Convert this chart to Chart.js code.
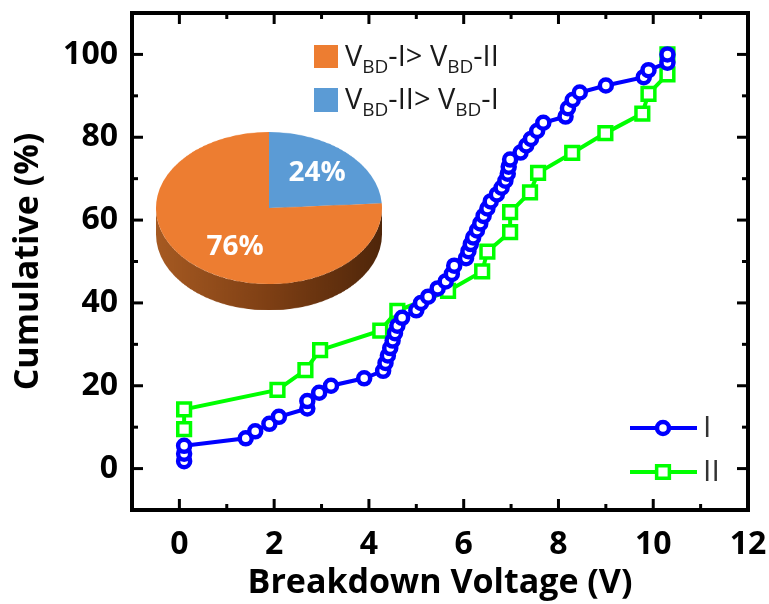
<!DOCTYPE html>
<html>
<head>
<meta charset="utf-8">
<script src="https://cdn.jsdelivr.net/npm/chart.js@4.4.0/dist/chart.umd.min.js"></script>
<style>
  body { margin: 0; background: #fff; }
  #wrap { position: relative; width: 769px; height: 604px; }
  #main { position: absolute; left: 0; top: 0; }
  #pie { position: absolute; left: 156px; top: 132px; transform: scaleY(0.673); transform-origin: 0 0; }
</style>
</head>
<body>
<div id="wrap">
  <canvas id="main" width="769" height="604"></canvas>
  <canvas id="pie" width="226" height="265"></canvas>
</div>
<script>
// series I (blue circles)
const voltI = [0.1, 0.1, 0.1, 1.4, 1.6, 1.9, 2.1, 2.7, 2.7, 2.95, 3.2, 3.9, 4.3, 4.35, 4.4, 4.45,
  4.5, 4.55, 4.6, 4.7, 5.0, 5.1, 5.25, 5.45, 5.62, 5.75, 5.8, 6.05, 6.1, 6.15, 6.2, 6.28,
  6.35, 6.42, 6.5, 6.57, 6.7, 6.8, 6.88, 6.93, 6.95, 6.98, 7.2, 7.32, 7.42, 7.55, 7.68,
  8.15, 8.2, 8.3, 8.45, 9.0, 9.8, 9.9, 10.3, 10.3];
const cumI = [1.8, 3.6, 5.5, 7.3, 9.0, 10.8, 12.5, 14.5, 16.3, 18.3, 20.0, 21.8, 23.6, 25.5, 27.3, 29.1,
  30.9, 32.7, 34.5, 36.4, 38.2, 40.0, 41.5, 43.5, 45.2, 47.0, 49.0, 50.8, 52.5, 54.2, 55.8, 57.5,
  59.2, 61.0, 62.8, 64.5, 66.2, 67.8, 69.5, 71.2, 72.9, 74.6, 76.3, 78.0, 79.6, 81.5, 83.5,
  85.0, 87.0, 89.0, 90.8, 92.5, 94.5, 96.2, 98.0, 100];

// series II (green squares)
const voltII = [0.1, 0.1, 2.07, 2.66, 2.97, 4.24, 4.6, 5.67, 6.39, 6.5, 6.98, 6.98, 7.4, 7.57,
  8.29, 8.99, 9.77, 9.9, 10.3, 10.3];
const cumII = [9.5, 14.3, 19.0, 23.8, 28.6, 33.3, 38.1, 42.9, 47.6, 52.4, 57.1, 61.9, 66.7, 71.4,
  76.2, 81.0, 85.7, 90.5, 95.2, 100];

// inset pie
const pieLabels = ['VBD-II> VBD-I', 'VBD-I> VBD-II'];
const pieShares = [24, 76];
const pieColors = ['#5B9BD5', '#ED7D31'];

const xTickLabels = [0, 2, 4, 6, 8, 10, 12];
const yTickLabels = [0, 20, 40, 60, 80, 100];

const FONT = 'Open Sans';
const PIE_SQUASH = 0.673;

function line(ctx, x1, y1, x2, y2) {
  ctx.beginPath();
  ctx.moveTo(x1, y1);
  ctx.lineTo(x2, y2);
  ctx.stroke();
}

// text with subscripts, parts = [[text, isSub], ...]
function drawRich(ctx, parts, x, y) {
  parts.forEach(([t, sub]) => {
    ctx.font = sub ? `19px "${FONT}"` : `29px "${FONT}"`;
    ctx.fillText(t, x, sub ? y + 7 : y);
    x += ctx.measureText(t).width;
  });
}

// frame with inward ticks on all four sides
const frameTicks = {
  id: 'frameTicks',
  afterDraw(chart) {
    const { ctx, chartArea: a, scales: { x, y } } = chart;
    ctx.save();
    ctx.strokeStyle = '#000';
    ctx.lineWidth = 3;
    x.ticks.forEach(t => {
      if (t.value <= x.min || t.value >= x.max) return;
      const px = x.getPixelForValue(t.value);
      const len = t.value % 2 === 0 ? 11 : 6;
      line(ctx, px, a.bottom, px, a.bottom - len);
      line(ctx, px, a.top, px, a.top + len);
    });
    y.ticks.forEach(t => {
      if (t.value <= y.min || t.value >= y.max) return;
      const py = y.getPixelForValue(t.value);
      const len = t.value % 20 === 0 ? 11 : 6;
      line(ctx, a.left, py, a.left + len, py);
      line(ctx, a.right, py, a.right - len, py);
    });
    ctx.lineWidth = 4;
    ctx.strokeRect(a.left, a.top, a.width, a.height);
    ctx.restore();
  }
};

// pie key (top) and series key (bottom right)
const keys = {
  id: 'keys',
  afterDraw(chart) {
    const ctx = chart.ctx;
    ctx.save();
    ctx.textBaseline = 'alphabetic';
    ctx.fillStyle = pieColors[1];
    ctx.fillRect(314, 45, 24, 23);
    ctx.fillStyle = pieColors[0];
    ctx.fillRect(314, 88, 24, 24);
    ctx.fillStyle = '#1a1a1a';
    drawRich(ctx, [['V', 0], ['BD', 1], ['-I> V', 0], ['BD', 1], ['-II', 0]], 345, 66);
    drawRich(ctx, [['V', 0], ['BD', 1], ['-II> V', 0], ['BD', 1], ['-I', 0]], 345, 109);

    chart.data.datasets.forEach((ds, i) => {
      const ly = 428 + i * 44;
      ctx.strokeStyle = ds.borderColor;
      ctx.lineWidth = 4;
      line(ctx, 630, ly, 697, ly);
      ctx.fillStyle = '#fff';
      ctx.lineWidth = ds.pointBorderWidth;
      ctx.beginPath();
      if (ds.pointStyle === 'rect') {
        const h = ds.pointRadius * Math.SQRT1_2;
        ctx.rect(663 - h, ly - h, 2 * h, 2 * h);
      } else {
        ctx.arc(663, ly, ds.pointRadius, 0, Math.PI * 2);
      }
      ctx.fill();
      ctx.stroke();
      ctx.fillStyle = '#333';
      ctx.font = `30px "${FONT}"`;
      ctx.textBaseline = 'middle';
      ctx.fillText(ds.label, 703, ly);
      ctx.textBaseline = 'alphabetic';
    });
    ctx.restore();
  }
};

new Chart(document.getElementById('main'), {
  type: 'scatter',
  data: {
    datasets: [
      {
        label: 'I',
        data: voltI.map((v, i) => ({ x: v, y: cumI[i] })),
        showLine: true,
        borderColor: '#0000ff',
        borderWidth: 4,
        pointStyle: 'circle',
        pointRadius: 6,
        pointBorderWidth: 4.5,
        pointBorderColor: '#0000ff',
        pointBackgroundColor: '#fff'
      },
      {
        label: 'II',
        data: voltII.map((v, i) => ({ x: v, y: cumII[i] })),
        showLine: true,
        borderColor: '#00ff00',
        borderWidth: 4,
        pointStyle: 'rect',
        pointRadius: 9,
        pointBorderWidth: 3.5,
        pointBorderColor: '#00ff00',
        pointBackgroundColor: '#fff'
      }
    ]
  },
  options: {
    responsive: false,
    animation: false,
    events: [],
    layout: { padding: { top: 13, right: 21, left: 0, bottom: 0 } },
    plugins: { legend: { display: false }, tooltip: { enabled: false } },
    scales: {
      x: {
        type: 'linear', min: -1, max: 12,
        grid: { display: false, drawTicks: false },
        border: { display: false },
        ticks: {
          stepSize: 1, autoSkip: false, maxRotation: 0, padding: 16, color: '#000',
          font: { family: FONT, size: 32, weight: 'bold' },
          callback: v => xTickLabels.includes(v) ? String(v) : ''
        },
        title: {
          display: true, text: 'Breakdown Voltage (V)', color: '#000',
          font: { family: FONT, size: 34, weight: 'bold' }, padding: { top: 0, bottom: 0 }
        },
        afterFit: s => { s.height = 94; s.paddingLeft = 0; s.paddingRight = 0; }
      },
      y: {
        type: 'linear', min: -10, max: 110,
        grid: { display: false, drawTicks: false },
        border: { display: false },
        ticks: {
          stepSize: 10, autoSkip: false, padding: 14, color: '#000',
          font: { family: FONT, size: 32, weight: 'bold' },
          callback: v => yTickLabels.includes(v) ? String(v) : ''
        },
        title: {
          display: true, text: 'Cumulative (%)', color: '#000',
          font: { family: FONT, size: 34, weight: 'bold' }, padding: { top: 8, bottom: 0 }
        },
        afterFit: s => { s.width = 132; s.paddingTop = 0; s.paddingBottom = 0; }
      }
    }
  },
  plugins: [frameTicks, keys]
});

// 3D side of the pie
const pieSide = {
  id: 'pieSide',
  beforeDatasetsDraw(chart) {
    const arc = chart.getDatasetMeta(0).data[0];
    const cx = arc.x, cy = arc.y, r = arc.outerRadius, d = 39;
    const ctx = chart.ctx;
    const g = ctx.createLinearGradient(cx - r, 0, cx + r, 0);
    g.addColorStop(0, '#a65a22');
    g.addColorStop(0.5, '#7e3f14');
    g.addColorStop(1, '#4f260a');
    ctx.save();
    ctx.fillStyle = g;
    ctx.beginPath();
    ctx.moveTo(cx - r, cy);
    ctx.lineTo(cx - r, cy + d);
    ctx.arc(cx, cy + d, r, Math.PI, 0, true);
    ctx.lineTo(cx + r, cy);
    ctx.arc(cx, cy, r, 0, Math.PI, false);
    ctx.closePath();
    ctx.fill();
    ctx.restore();
  }
};

// percentage labels, un-squashed
const pieText = {
  id: 'pieText',
  afterDatasetsDraw(chart) {
    const arc = chart.getDatasetMeta(0).data[0];
    const ctx = chart.ctx;
    const offsets = [[48, -35], [-34, 39]];
    ctx.save();
    ctx.fillStyle = '#fff';
    ctx.font = `bold 28px "${FONT}"`;
    ctx.textAlign = 'center';
    ctx.textBaseline = 'middle';
    pieShares.forEach((v, i) => {
      ctx.save();
      ctx.translate(arc.x + offsets[i][0], arc.y + offsets[i][1] / PIE_SQUASH);
      ctx.scale(1, 1 / PIE_SQUASH);
      ctx.fillText(v + '%', 0, 0);
      ctx.restore();
    });
    ctx.restore();
  }
};

new Chart(document.getElementById('pie'), {
  type: 'pie',
  data: {
    labels: pieLabels,
    datasets: [{ data: pieShares, backgroundColor: pieColors, borderWidth: 0, hoverOffset: 0 }]
  },
  options: {
    responsive: false,
    animation: false,
    events: [],
    layout: { padding: { top: 0, left: 0, right: 0, bottom: 39 } },
    plugins: { legend: { display: false }, tooltip: { enabled: false } }
  },
  plugins: [pieSide, pieText]
});
</script>
</body>
</html>
